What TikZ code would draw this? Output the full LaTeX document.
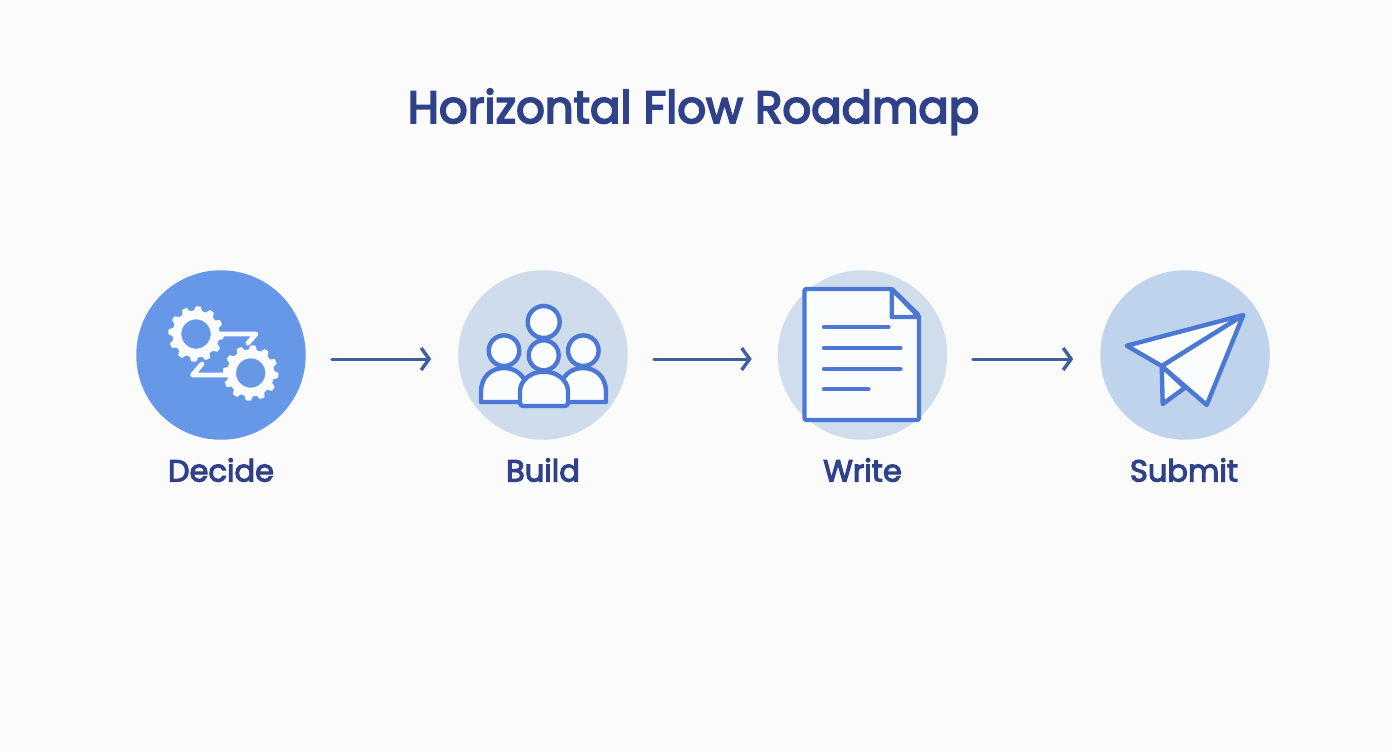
\documentclass[tikz,border=0pt]{standalone}
\usepackage{fontspec}
\setmainfont{Poppins}
\newfontfamily\headfont{Poppins}[BoldFont=Poppins,BoldFeatures={FakeBold=4}]
\newfontfamily\labelfont{Poppins}[BoldFont=Poppins,BoldFeatures={FakeBold=3.6}]
\usetikzlibrary{arrows.meta}
\definecolor{bgc}{HTML}{FBFBFB}
\definecolor{ink}{HTML}{2F4188}
\definecolor{iconblue}{HTML}{4A78D4}
\definecolor{paper}{HTML}{FAFCFD}
\definecolor{arrowc}{HTML}{3F5F9E}
\definecolor{cA}{HTML}{6798E8}
\definecolor{cB}{HTML}{CFDCEC}
\definecolor{cC}{HTML}{D0DDEC}
\definecolor{cD}{HTML}{BFD4EC}
\tikzset{
  x=1pt,y=-1pt,
  disc/.style={circle,minimum size=169.5pt,inner sep=0pt,outer sep=0pt},
  steplabel/.style={text=ink,font=\labelfont\bfseries\fontsize{30.5}{32}\selectfont,inner sep=0pt,anchor=base},
  flow/.style={draw=arrowc,line width=3pt,-{Straight Barb[length=8pt,width=22pt,line width=3.4pt]},line cap=round},
  outline/.style={draw=iconblue,fill=paper,line width=4.4pt,line join=round},
  rule/.style={draw=iconblue,line width=4.2pt,line cap=round},
  cog/.style={draw=paper,line width=4.8pt,line cap=round,line join=round},
}
\newcommand{\cogwheel}[2]{%
  \fill[paper,even odd rule]
    plot[samples=145,domain=0:360,smooth,tension=0.25]
      ({#1+(25.6+2.1*tanh(4*cos(12*\x)))*cos(\x+5)},{#2+(25.6+2.1*tanh(4*cos(12*\x)))*sin(\x+5)})
    -- cycle
    (#1,#2) circle[radius=14.7];
}
\begin{document}
\begin{tikzpicture}
\useasboundingbox (0,0) rectangle (1392,752);
\fill[bgc] (0,0) rectangle (1392,752);
\node[text=ink,font=\headfont\bfseries\fontsize{45}{48}\selectfont,inner sep=0pt,anchor=base] (title) at (693.5,123) {Horizontal Flow Roadmap};
\node[disc,fill=cA] (c1) at (221,355) {};
\node[disc,fill=cB] (c2) at (543,355) {};
\node[disc,fill=cC] (c3) at (862.5,355) {};
\node[disc,fill=cD] (c4) at (1185,355) {};
\node[steplabel] (l1) at (221,481.5) {Decide};
\node[steplabel] (l2) at (543,481.5) {Build};
\node[steplabel] (l3) at (862.5,481.5) {Write};
\node[steplabel] (l4) at (1184,481.5) {Submit};
\draw[flow,shorten <=26pt,shorten >=27pt] ([yshift=-4pt]c1.east) -- ([yshift=-4pt]c2.west);
\draw[flow,shorten <=26pt,shorten >=26pt] ([yshift=-4pt]c2.east) -- ([yshift=-4pt]c3.west);
\draw[flow,shorten <=25.5pt,shorten >=27pt] ([yshift=-4pt]c3.east) -- ([yshift=-4pt]c4.west);
% gears
\draw[cog] (218,334) -- (256,334) -- (248,343);
\draw[cog] (230,375) -- (192.5,375) -- (202,364);
\cogwheel{196}{334}
\cogwheel{250.7}{373}
% people
\draw[outline] (481,402) -- (481,392) .. controls (481,376) and (492,368) .. (504,368) .. controls (516,368) and (527,376) .. (527,392) -- (527,402) -- cycle;
\draw[outline] (606,402) -- (606,392) .. controls (606,376) and (595,368) .. (583,368) .. controls (571,368) and (560,376) .. (560,392) -- (560,402) -- cycle;
\draw[outline] (504,350.7) circle[radius=15.3];
\draw[outline] (583.3,350.7) circle[radius=15.3];
\draw[outline] (543.7,322) circle[radius=16];
\draw[outline] (543.7,355.3) circle[radius=15];
\draw[outline,rounded corners=3pt] (520,406) -- (520,394) .. controls (520,380) and (532,372) .. (543.7,372) .. controls (556,372) and (568,380) .. (568,394) -- (568,406) -- cycle;
% document
\draw[outline,rounded corners=2pt] (804.5,289) -- (891.7,289) -- (919,315.5) -- (919,420) -- (804.5,420) -- cycle;
\draw[outline] (891.7,289) -- (891.7,317) -- (919,317) -- cycle;
\draw[rule] (824,327) -- (888.5,327);
\draw[rule] (824,348.3) -- (900.5,348.3);
\draw[rule] (824,369) -- (900.5,369);
\draw[rule] (824,389.3) -- (868.5,389.3);
% paper plane
\draw[outline] (1161.7,366) -- (1162.7,404) -- (1185,387.7) -- cycle;
\draw[outline] (1243.3,315) -- (1206.7,405) -- (1161.7,366) -- cycle;
\draw[outline] (1243.3,315) -- (1126.7,345.7) -- (1161.7,366) -- cycle;
\end{tikzpicture}
\end{document}
